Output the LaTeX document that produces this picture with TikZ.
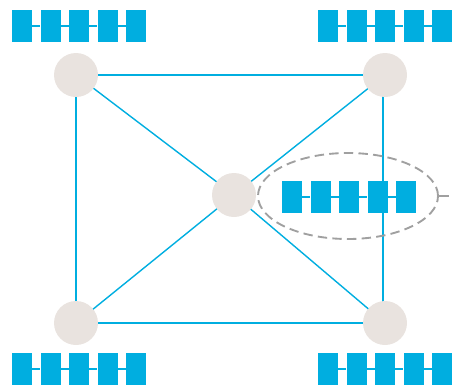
\documentclass[tikz,border=0pt]{standalone}
\usetikzlibrary{shapes.geometric}
\definecolor{linkblue}{RGB}{0,174,224}
\definecolor{hostgray}{RGB}{233,227,223}
\definecolor{dashgray}{RGB}{160,160,160}
\tikzset{x=0.03cm, y=-0.03cm,
    host/.style={circle, fill=hostgray, minimum size=1.32cm, inner sep=0pt},
    link/.style={draw=linkblue, line width=1.2pt},
    block/.style={rectangle, fill=linkblue, minimum width=0.6cm, minimum height=0.96cm, inner sep=0pt},
    grouping/.style={ellipse, draw=dashgray, dash pattern=on 8pt off 4.5pt, line width=1.6pt, minimum width=5.4cm, minimum height=2.58cm},
    }

\begin{document}
\begin{tikzpicture}
\useasboundingbox (0,0) rectangle (452,387);
% hosts
\coordinate (c1) at (76,75);
\coordinate (c2) at (385,75);
\coordinate (c3) at (76,323);
\coordinate (c4) at (385,323);
\coordinate (c0) at (234,195);
% links
\draw[link] (c1) -- (c2) (c1) -- (c3) (c3) -- (c4);
\draw[link] ([xshift=-0.06cm]c2) -- ([xshift=-0.06cm]c4);
\draw[link] (c1) -- (c0) -- (c4) (c2) -- (c0) -- (c3);
% dashed group
\node[grouping] (grp) at (348,196) {};
\coordinate (tick) at (449,196);
\draw[dashgray, line width=1.6pt] (grp.east) -- (tick);
\foreach \c in {0,...,4}
    \node[host] (h\c) at (c\c) {};
% block chains
\foreach \name/\x/\y in {tl/22/26, tr/328/26, bl/22/369, br/328/369, mid/292/197}{
    \foreach \i in {1,...,5}
        \node[block] (\name\i) at ({\x+(\i-1)*28.5},\y) {};
    \foreach \i/\j in {1/2,2/3,3/4,4/5}
        \draw[link] (\name\i) -- (\name\j);
}
\end{tikzpicture}
\end{document}
